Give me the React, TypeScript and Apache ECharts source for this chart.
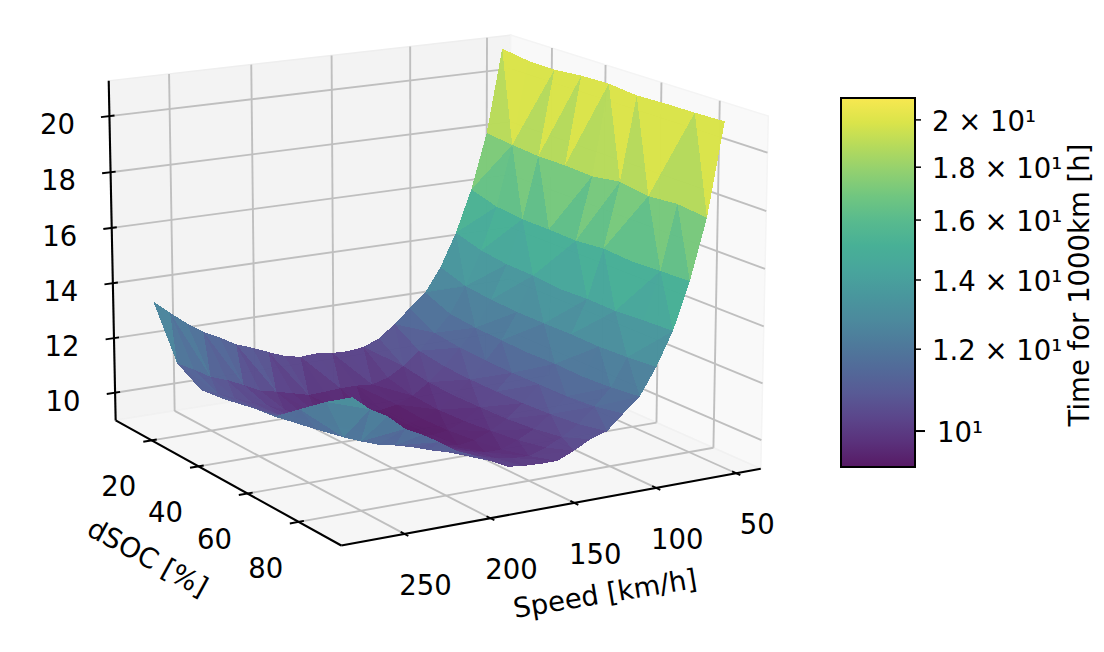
import React, { useEffect, useRef } from "react";
import * as echarts from "echarts";

const speeds = [50, 60, 70, 80, 90, 100, 110, 120, 130, 140, 150, 160, 170, 180, 190, 200, 210, 220, 230, 240, 250, 260, 270];
const dsocs = [10, 20, 30, 40, 50, 60, 70, 80, 90];
const times = [
  [21.03, 20.89, 20.87, 20.97, 21.0, 20.9, 20.94, 20.95, 20.98],
  [17.96, 17.86, 17.79, 17.8, 17.76, 17.92, 17.77, 17.86, 17.75],
  [15.92, 15.65, 15.55, 15.55, 15.52, 15.62, 15.55, 15.6, 15.64],
  [14.38, 14.1, 13.97, 13.95, 13.86, 13.9, 13.88, 13.95, 14.0],
  [13.17, 12.85, 12.75, 12.7, 12.7, 12.72, 12.7, 12.75, 12.84],
  [12.3, 11.9, 11.8, 11.75, 11.72, 11.75, 11.72, 11.78, 11.9],
  [11.8, 11.28, 11.15, 11.1, 11.08, 11.1, 11.12, 11.2, 11.4],
  [11.28, 10.7, 10.55, 10.5, 10.5, 10.52, 10.58, 10.68, 10.88],
  [10.83, 10.22, 10.05, 10.0, 10.02, 10.05, 10.15, 10.32, 10.7],
  [10.6, 9.88, 9.65, 9.58, 9.62, 9.72, 9.85, 10.05, 10.4],
  [10.53, 9.72, 9.42, 9.34, 9.38, 9.48, 9.62, 9.85, 10.15],
  [10.56, 9.77, 9.32, 9.25, 9.3, 9.4, 9.62, 9.88, 10.15],
  [10.63, 9.77, 9.35, 9.28, 9.35, 9.52, 9.75, 9.98, 10.18],
  [10.6, 9.73, 9.38, 9.35, 9.48, 9.7, 9.92, 10.15, 10.25],
  [10.72, 9.71, 9.42, 9.45, 9.65, 9.85, 10.08, 10.3, 10.55],
  [10.96, 9.87, 9.55, 9.6, 9.82, 10.02, 10.25, 10.5, 10.85],
  [11.21, 10.02, 9.72, 9.78, 10.0, 10.22, 10.45, 10.66, 11.1],
  [11.43, 10.16, 9.92, 9.98, 10.18, 10.4, 10.6, 10.86, 11.5],
  [11.77, 10.46, 10.15, 10.2, 10.38, 10.6, 10.78, 11.02, 11.85],
  [12.07, 10.73, 10.38, 10.42, 10.6, 10.78, 10.95, 11.15, 12.15],
  [12.47, 10.94, 10.62, 10.65, 10.82, 11.0, 11.15, 11.36, 12.67],
  [12.94, 11.3, 10.88, 10.92, 11.1, 11.22, 11.4, 11.6, 13.0],
  [13.44, 11.62, 11.1, 11.2, 11.4, 11.5, 12.2, 12.9, 13.5],
];
// which diagonal each grid cell of the triangulation uses
const diagonals = [
  "01110010", "10011100", "11010010", "01101101", "10110100", "01001011", "11011010", "00101101",
  "10010110", "01101001", "11010011", "00110100", "10101101", "01011010", "10100101", "01011011",
  "10110010", "01001101", "11010110", "00101001", "10110100", "01101011",
];
const speedTicks = [50, 100, 150, 200, 250];
const dsocTicks = [20, 40, 60, 80];
const timeTicks = [10, 12, 14, 16, 18, 20];
const colorTicks = [10, 12, 14, 16, 18, 20];
const colorTickLabels = ["10¹", "1.2 × 10¹", "1.4 × 10¹", "1.6 × 10¹", "1.8 × 10¹", "2 × 10¹"];

// the faded viridis colours seen in the colour bar
const colorStops = [
  [87, 26, 101], [90, 49, 123], [91, 70, 139], [88, 90, 149], [82, 106, 153], [78, 122, 155],
  [76, 138, 157], [73, 151, 157], [72, 165, 156], [72, 176, 150], [88, 186, 142], [112, 198, 128],
  [145, 208, 112], [180, 218, 92], [218, 228, 74], [248, 232, 80],
];

const X_LIM = [34.4, 286];
const Y_LIM = [4, 96];
const Z_LIM = [8.98, 21.25];
const C_LIM = [9.23, 21.0];
const FONT = "DejaVu Sans";
const FS = 27.5;

const ELEV = (14.4 * Math.PI) / 180;
const AZIM = (59.5 * Math.PI) / 180;
const DIST = 10;
const SX = 4000;
const SY = 4000;
const CX = 431.7;
const CY = 273;
const ASPECT = [1.1905, 1.1905, 0.8929];

const w = [Math.cos(ELEV) * Math.cos(AZIM), Math.cos(ELEV) * Math.sin(AZIM), Math.sin(ELEV)];
const uLen = Math.hypot(w[1], w[0]);
const u = [-w[1] / uLen, w[0] / uLen, 0];
const v = [w[1] * u[2] - w[2] * u[1], w[2] * u[0] - w[0] * u[2], w[0] * u[1] - w[1] * u[0]];
const dot = (a: number[], b: number[]) => a[0] * b[0] + a[1] * b[1] + a[2] * b[2];

function toBox(sp: number, ds: number, t: number) {
  return [
    ((sp - X_LIM[0]) / (X_LIM[1] - X_LIM[0]) - 0.5) * ASPECT[0],
    ((ds - Y_LIM[0]) / (Y_LIM[1] - Y_LIM[0]) - 0.5) * ASPECT[1],
    ((t - Z_LIM[0]) / (Z_LIM[1] - Z_LIM[0]) - 0.5) * ASPECT[2],
  ];
}
function project(sp: number, ds: number, t: number): [number, number] {
  const p = toBox(sp, ds, t);
  const d = DIST - dot(w, p);
  return [CX + (SX * dot(u, p)) / d, CY - (SY * dot(v, p)) / d];
}
const depth = (sp: number, ds: number, t: number) => dot(w, toBox(sp, ds, t));

function colorAt(f: number) {
  const x = Math.min(1, Math.max(0, f)) * (colorStops.length - 1);
  const i = Math.min(colorStops.length - 2, Math.floor(x));
  const k = x - i;
  return colorStops[i].map((c, n) => c + (colorStops[i + 1][n] - c) * k);
}
const norm = (t: number) =>
  (Math.log(t) - Math.log(C_LIM[0])) / (Math.log(C_LIM[1]) - Math.log(C_LIM[0]));

type Tri = { pts: [number, number][]; fill: string; z: number };
const tris: Tri[] = [];
function addTri(a: number[], b: number[], c: number[]) {
  const vs = [a, b, c].map(([i, j]) => [speeds[i], dsocs[j], times[i][j]]);
  const mean = (vs[0][2] + vs[1][2] + vs[2][2]) / 3;
  const col = colorAt(norm(mean));
  tris.push({
    pts: vs.map((q) => project(q[0], q[1], q[2])),
    fill: `rgba(${col[0].toFixed(0)},${col[1].toFixed(0)},${col[2].toFixed(0)},0.99)`,
    z: vs.reduce((s, q) => s + depth(q[0], q[1], q[2]), 0) / 3,
  });
}
for (let i = 0; i < speeds.length - 1; i++) {
  for (let j = 0; j < dsocs.length - 1; j++) {
    if (diagonals[i][j] === "0") {
      addTri([i, j], [i + 1, j], [i + 1, j + 1]);
      addTri([i, j], [i, j + 1], [i + 1, j + 1]);
    } else {
      addTri([i, j], [i, j + 1], [i + 1, j]);
      addTri([i, j + 1], [i + 1, j], [i + 1, j + 1]);
    }
  }
}
tris.sort((a, b) => a.z - b.z);

const line = (a: [number, number], b: [number, number], stroke: string, lineWidth: number) => ({
  type: "line",
  shape: { x1: a[0], y1: a[1], x2: b[0], y2: b[1] },
  style: { stroke, lineWidth },
  silent: true,
});
const label = (text: string, x: number, y: number, rotation = 0, align = "center") => ({
  type: "text",
  x,
  y,
  rotation,
  style: { text, fontFamily: FONT, fontSize: FS, fill: "#000", align, verticalAlign: "middle" },
  silent: true,
});

function frameChildren() {
  const [x0, x1] = X_LIM;
  const [y0, y1] = Y_LIM;
  const [z0, z1] = Z_LIM;
  const kids: any[] = [];
  const pane = (pts: [number, number][], fill: string, stroke: string) =>
    kids.push({ type: "polygon", shape: { points: pts }, style: { fill: fill, stroke, lineWidth: 1.5 }, silent: true });
  pane([project(x1, y0, z0), project(x0, y0, z0), project(x0, y0, z1), project(x1, y0, z1)], "#f3f3f3", "#eeeeee");
  pane([project(x0, y0, z0), project(x0, y1, z0), project(x0, y1, z1), project(x0, y0, z1)], "#f9f9f9", "#f4f4f4");
  pane([project(x1, y0, z0), project(x0, y0, z0), project(x0, y1, z0), project(x1, y1, z0)], "#f6f6f6", "#f1f1f1");
  const GRID = "#bfbfbf";
  const GW = 1.9;
  speedTicks.forEach((s) => {
    kids.push(line(project(s, y0, z0), project(s, y0, z1), GRID, GW));
    kids.push(line(project(s, y0, z0), project(s, y1, z0), GRID, GW));
  });
  dsocTicks.forEach((d) => {
    kids.push(line(project(x0, d, z0), project(x0, d, z1), GRID, GW));
    kids.push(line(project(x0, d, z0), project(x1, d, z0), GRID, GW));
  });
  timeTicks.forEach((t) => {
    kids.push(line(project(x1, y0, t), project(x0, y0, t), GRID, GW));
    kids.push(line(project(x0, y0, t), project(x0, y1, t), GRID, GW));
  });
  const AX = "#000";
  const AW = 2.1;
  kids.push(line(project(x1, y0, z0), project(x1, y0, z1), AX, AW));
  kids.push(line(project(x1, y0, z0), project(x1, y1, z0), AX, AW));
  kids.push(line(project(x1, y1, z0), project(x0, y1, z0), AX, AW));
  const dx = x1 - x0;
  const dy = y1 - y0;
  timeTicks.forEach((t) => {
    kids.push(line(project(x1 + 0.02 * dx, y0, t), project(x1 - 0.012 * dx, y0, t), AX, AW * 0.9));
    const p = project(x1, y0, t);
    kids.push(label(String(t), p[0] - 52, p[1] + 8));
  });
  dsocTicks.forEach((d) => {
    kids.push(line(project(x1 + 0.02 * dx, d, z0), project(x1 - 0.012 * dx, d, z0), AX, AW * 0.9));
    const p = project(x1, d, z0);
    kids.push(label(String(d), p[0] - 33, p[1] + 46));
  });
  speedTicks.forEach((s) => {
    kids.push(line(project(s, y1 + 0.015 * dy, z0), project(s, y1 - 0.015 * dy, z0), AX, AW * 0.9));
    const p = project(s, y1, z0);
    kids.push(label(String(s), p[0] + 21, p[1] + 51));
  });
  kids.push(label("Speed [km/h]", 605, 593, 0.165));
  kids.push(label("dSOC [%]", 148, 557, -0.5));
  return kids;
}

export default function App() {
  const ref = useRef<HTMLDivElement>(null);
  useEffect(() => {
    const chart = echarts.init(ref.current!, undefined, { renderer: "svg" });
    const barStops = colorStops
      .map((c, i) => ({ offset: 1 - i / (colorStops.length - 1), color: `rgb(${c.join(",")})` }))
      .reverse();
    chart.setOption({
      animation: false,
      backgroundColor: "#fff",
      grid: { left: 841, top: 98, width: 74, height: 369, show: false },
      xAxis: { type: "value", min: 0, max: 1, show: false },
      yAxis: { type: "log", min: C_LIM[0], max: C_LIM[1], show: false },
      series: [
        {
          type: "custom",
          coordinateSystem: "none",
          silent: true,
          data: [[0]],
          renderItem: () => ({ type: "group", children: frameChildren() }),
        },
        {
          type: "custom",
          coordinateSystem: "none",
          silent: true,
          progressive: 0,
          data: tris.map((_, i) => [i]),
          renderItem: (params: any) => {
            const t = tris[params.dataIndex];
            return { type: "polygon", shape: { points: t.pts }, style: { fill: t.fill }, silent: true };
          },
        },
        {
          type: "custom",
          coordinateSystem: "cartesian2d",
          silent: true,
          clip: false,
          data: [[0, C_LIM[0]]],
          encode: { x: 0, y: 1 },
          renderItem: (_: any, api: any) => {
            const a = api.coord([0, C_LIM[1]]);
            const b = api.coord([1, C_LIM[0]]);
            return {
              type: "rect",
              shape: { x: a[0], y: a[1], width: b[0] - a[0], height: b[1] - a[1] },
              style: {
                fill: { type: "linear", x: 0, y: 0, x2: 0, y2: 1, colorStops: barStops },
                stroke: "#000",
                lineWidth: 2,
              },
              silent: true,
            };
          },
        },
        {
          type: "custom",
          coordinateSystem: "cartesian2d",
          silent: true,
          clip: false,
          data: colorTicks.map((t) => [1, t]),
          encode: { x: 0, y: 1 },
          renderItem: (params: any, api: any) => {
            const p = api.coord([1, api.value(1)]);
            const major = api.value(1) === 10;
            return {
              type: "group",
              children: [
                line([p[0], p[1]], [p[0] + (major ? 10 : 6), p[1]], "#000", major ? 2 : 1.5),
                label(colorTickLabels[params.dataIndex], p[0] + (major ? 22 : 17), p[1] + 1, 0, "left"),
              ],
            };
          },
        },
        {
          type: "custom",
          coordinateSystem: "none",
          silent: true,
          data: [[0]],
          renderItem: () => label("Time for 1000km [h]", 1079, 285, Math.PI / 2),
        },
      ],
    });
    ref.current!.querySelectorAll("path[fill-opacity]").forEach((n) => n.setAttribute("shape-rendering", "crispEdges"));
    return () => chart.dispose();
  }, []);
  return <div ref={ref} style={{ position: "absolute", left: 0, top: 0, width: 1104, height: 652 }} />;
}
